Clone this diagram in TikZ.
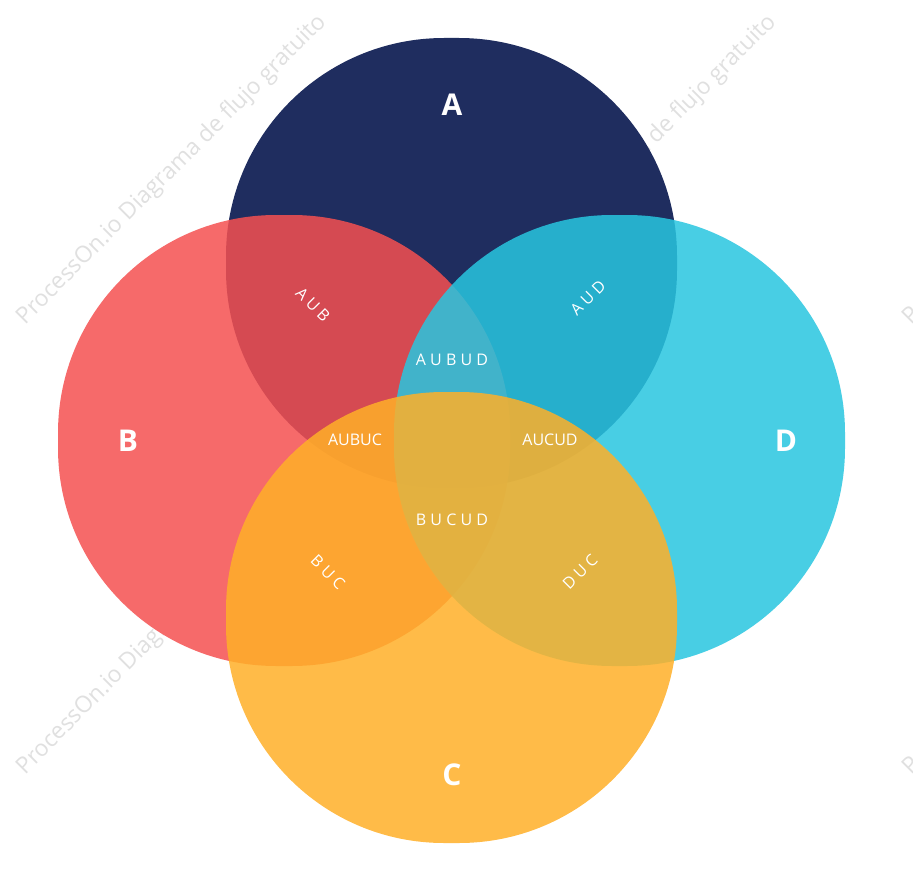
\documentclass[tikz,border=0pt]{standalone}
\usepackage{fontspec}
\setmainfont{Open Sans}
\begin{document}
\begin{tikzpicture}[x=1pt,y=-1pt,
  blob/.style={rounded corners=218pt,fill opacity=0.85},
  lbl/.style={text=white,font=\fontsize{16}{18}\selectfont},
  big/.style={text=white,font=\bfseries\fontsize{30}{34}\selectfont},
  wm/.style={text=black!12,font=\fontsize{23}{26}\selectfont,rotate=45,anchor=center}]
\useasboundingbox (0,0) rectangle (913,880);
\fill[white] (0,0) rectangle (913,880);
\begin{scope}
\clip (0,0) rectangle (913,880);
\node[wm] (w1) at (172,170) {ProcessOn.io Diagrama de flujo gratuito};
\node[wm] (w2) at (622,170) {ProcessOn.io Diagrama de flujo gratuito};
\node[wm] (w3) at (1058,170) {ProcessOn.io Diagrama de flujo gratuito};
\node[wm] (w4) at (172,620) {ProcessOn.io Diagrama de flujo gratuito};
\node[wm] (w6) at (1058,620) {ProcessOn.io Diagrama de flujo gratuito};
\end{scope}
\fill[white,rounded corners=218pt] (58,215) rectangle (510,666);
\fill[white,rounded corners=218pt] (394,215) rectangle (845,666);
\fill[white,rounded corners=218pt] (226,392) rectangle (677,843);
\fill[blob,fill={rgb,255:red,31;green,45;blue,95},fill opacity=1] (226,38) rectangle (677,488);
\fill[blob,fill={rgb,255:red,245;green,80;blue,80}] (58,215) rectangle (510,666);
\fill[blob,fill={rgb,255:red,40;green,198;blue,224}] (394,215) rectangle (845,666);
\fill[blob,fill={rgb,255:red,255;green,176;blue,40}] (226,392) rectangle (677,843);
\node[big] (A) at (452,105) {A};
\node[big] (B) at (128,441) {B};
\node[big] (D) at (786,441) {D};
\node[big] (C) at (452,775) {C};
\node[lbl,rotate=-45] (ab) at (313,305) {A U B};
\node[lbl,rotate=45] (ad) at (588,298) {A U D};
\node[lbl] (abd) at (452,360) {A U B U D};
\node[lbl] (abc) at (355,440) {AUBUC};
\node[lbl] (acd) at (550,440) {AUCUD};
\node[lbl] (bcd) at (452,520) {B U C U D};
\node[lbl,rotate=-45] (bc) at (328,572) {B U C};
\node[lbl,rotate=45] (dc) at (580,572) {D U C};
\end{tikzpicture}
\end{document}
